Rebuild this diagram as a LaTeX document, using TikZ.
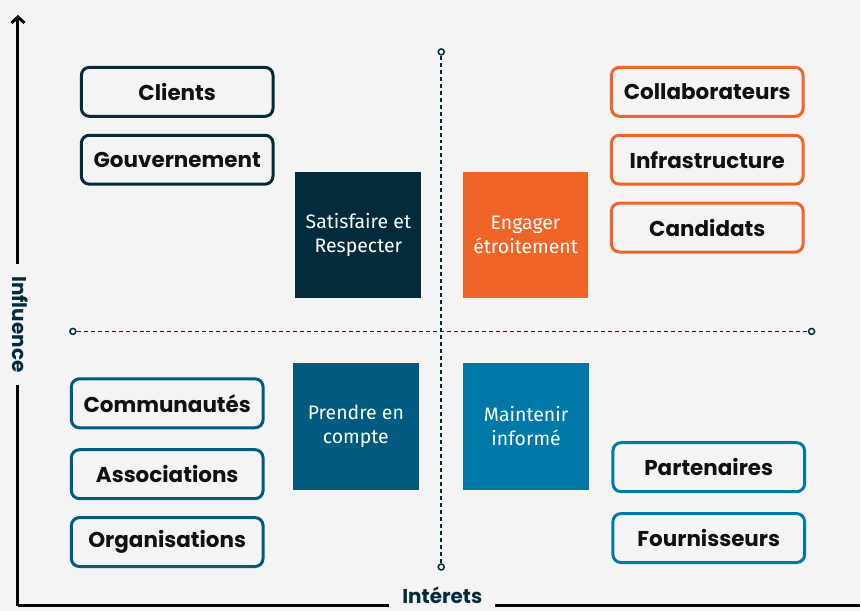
\documentclass[tikz,border=0pt]{standalone}
\usepackage{fontspec}
\setmainfont{Poppins}
\newfontfamily\quadfont{Fira Sans}
\usetikzlibrary{arrows.meta}

\definecolor{bg}{HTML}{F4F4F4}
\definecolor{navy}{HTML}{032B3C}
\definecolor{orange}{HTML}{F06527}
\definecolor{deepteal}{HTML}{005B80}
\definecolor{lightteal}{HTML}{0079A8}
\definecolor{ink}{HTML}{111111}

\begin{document}
\begin{tikzpicture}[x=1pt,y=-1pt,
    stake/.style={draw=#1, line width=3pt, rounded corners=8pt, minimum width=192pt,
        minimum height=49pt, text=ink, font=\fontsize{21.5}{24}\selectfont\bfseries},
    quad/.style={fill=#1, minimum width=126pt, minimum height=127pt, text=white,
        align=center, font=\quadfont\fontsize{19.5}{24}\selectfont},
    endmark/.style={circle, draw=navy, fill=bg, line width=1.5pt, inner sep=0pt, minimum size=6pt},
    axislabel/.style={text=navy, font=\fontsize{20}{24}\selectfont\bfseries},
    axis/.style={line width=3pt, black}]
    \fill[bg] (0,0) rectangle (861,612);
    % axes
    \coordinate (origin) at (18,607);
    \coordinate (ytip) at (18,15);
    \coordinate (xend) at (861,607);
    \node[axislabel, rotate=-90, inner xsep=12pt] (influence) at (20,325) {Influence};
    \node[axislabel, inner xsep=13pt, inner ysep=0pt] (interets) at (443,596) {Intérets};
    \draw[axis] (origin) -- (influence.east -| origin);
    \draw[axis, -{Straight Barb[length=6pt,width=13pt]}] (influence.west -| origin) -- (ytip);
    \draw[axis] (origin) -- (interets.west |- origin);
    \draw[axis] (interets.east |- origin) -- (xend);
    % dotted cross
    \node[endmark] (vtop) at (442,52) {};
    \node[endmark] (vbot) at (442,568) {};
    \node[endmark] (hleft) at (73,332) {};
    \node[endmark] (hright) at (813,332) {};
    \draw[navy, line width=1.5pt, dash pattern=on 4pt off 3pt] (vtop) -- (vbot);
    \draw[navy, line width=1.5pt, dash pattern=on 4pt off 3pt] (hleft) -- (hright);
    % quadrants
    \node[quad=navy] (satisfaire) at (359,235.5) {Satisfaire et\\Respecter};
    \node[quad=orange] (engager) at (526.5,235.5) {Engager\\étroitement};
    \node[quad=deepteal] (prendre) at (356.5,427) {Prendre en\\compte};
    \node[quad=lightteal] (maintenir) at (527,427) {Maintenir\\informé};
    % stakeholders
    \node[stake=navy] (clients) at (177.5,92) {Clients};
    \node[stake=navy] (gouv) at (177.5,160) {Gouvernement};
    \node[stake=orange] (collab) at (708.5,92) {Collaborateurs};
    \node[stake=orange] (infra) at (708.5,160) {Infrastructure};
    \node[stake=orange] (candidats) at (708.5,228) {Candidats};
    \node[stake=deepteal] (communautes) at (167.5,404) {Communautés};
    \node[stake=deepteal] (associations) at (167.5,475) {Associations};
    \node[stake=deepteal] (organisations) at (167.5,543) {Organisations};
    \node[stake=lightteal] (partenaires) at (710,468) {Partenaires};
    \node[stake=lightteal] (fournisseurs) at (710,539) {Fournisseurs};
\end{tikzpicture}
\end{document}
